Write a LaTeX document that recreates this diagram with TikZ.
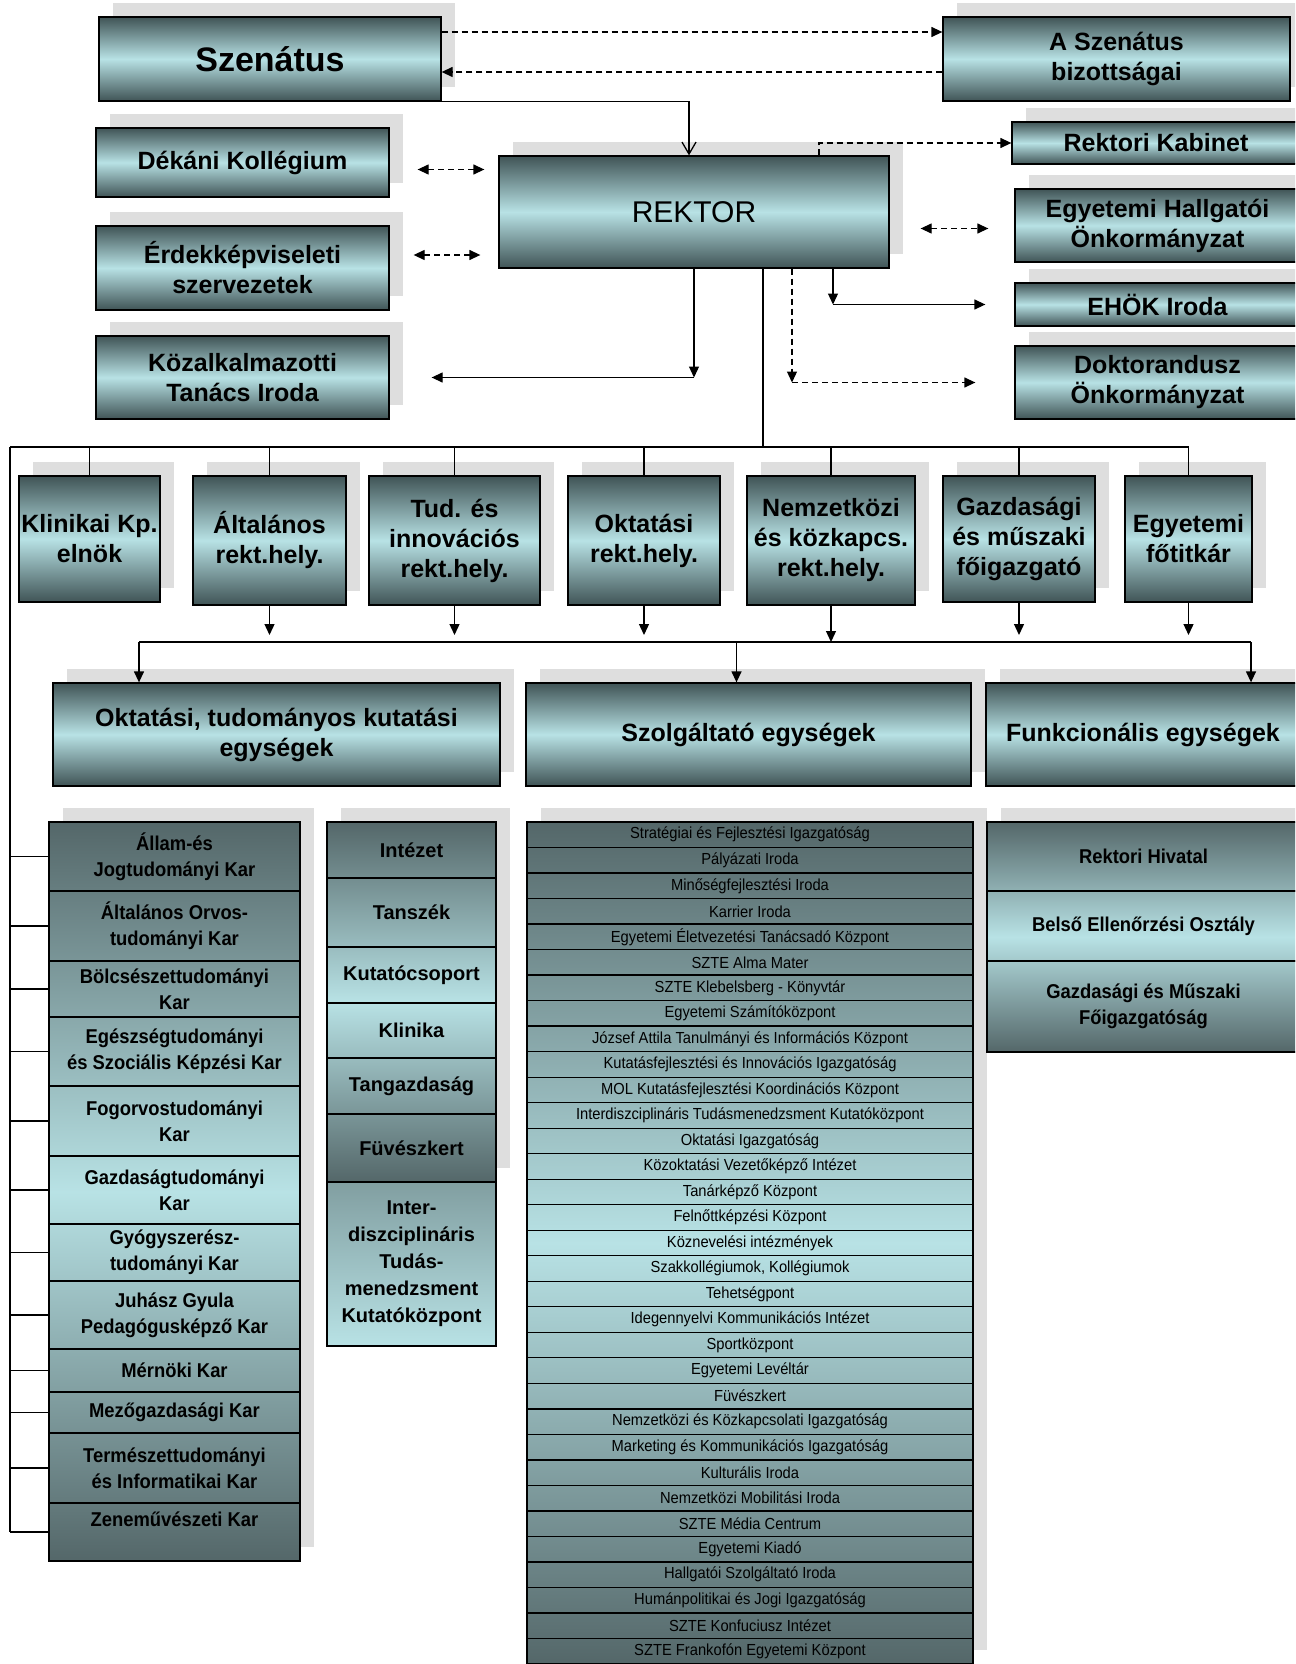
\documentclass[tikz,border=0pt]{standalone}
\usepackage{fontspec}
\setmainfont{Liberation Sans}
\newfontfamily\keskeny{Liberation Sans}[FakeStretch=0.92]
\usetikzlibrary{arrows.meta,shadows,calc}
\definecolor{sotet}{RGB}{64,84,86}
\definecolor{vilagos}{RGB}{184,226,229}
\definecolor{listasotet}{RGB}{84,103,105}
\definecolor{arnyek}{RGB}{222,222,222}
\begin{document}
\begin{tikzpicture}[x=1pt, y=-1pt, line width=1.3pt,
    >={Triangle[length=11pt,width=10pt]},
    arnyekos/.style={drop shadow={shadow xshift=14pt, shadow yshift=14pt, fill=arnyek, opacity=1}},
    doboz/.style={draw, arnyekos, top color=sotet, bottom color=sotet, middle color=vilagos, align=center, inner sep=2pt},
    lista/.style={arnyekos, top color=listasotet, bottom color=listasotet, middle color=vilagos},
    sor/.style={draw, align=center, inner sep=0pt},
    fofont/.style={font=\fontsize{25}{30}\selectfont\bfseries},
    karfont/.style={font=\keskeny\fontsize{20}{26}\selectfont\bfseries},
    kisfont/.style={font=\keskeny\fontsize{16}{18}\selectfont},
    szaggatott/.style={dash pattern=on 6pt off 4pt}]
    \useasboundingbox (0,0) rectangle (1295,1664);
    \fill[white] (0,0) rectangle (1295,1664);
    \clip (0,0) rectangle (1295,1664);
    % Szenátus és bizottságai
    \node[doboz, minimum width=342pt, minimum height=84pt, font=\fontsize{34}{40}\selectfont\bfseries] (szenatus) at (270,59) {Szenátus};
    \node[doboz, fofont, minimum width=347pt, minimum height=84pt] (bizottsag) at (1116.5,59) {A Szenátus\\bizottságai};
    % Rektor és környezete
    \node[doboz, minimum width=390pt, minimum height=112pt, font=\fontsize{30}{36}\selectfont] (rektor) at (694,212) {REKTOR};
    \node[doboz, fofont, minimum width=293pt, minimum height=69pt] (dekani) at (242.5,162.5) {Dékáni Kollégium};
    \node[doboz, fofont, minimum width=293pt, minimum height=84pt] (erdek) at (242.5,268) {Érdekképviseleti\\szervezetek};
    \node[doboz, fofont, minimum width=293pt, minimum height=83pt] (kozalk) at (242.5,377.5) {Közalkalmazotti\\Tanács Iroda};
    \node[doboz, fofont, minimum width=288pt, minimum height=42pt] (kabinet) at (1156,143) {Rektori Kabinet};
    \node[doboz, fofont, minimum width=285pt, minimum height=73pt] (ehoe) at (1157.5,225.5) {Egyetemi Hallgatói\\Önkormányzat};
    \node[doboz, fofont, minimum width=285pt, minimum height=43pt] (ehokiroda) at (1157.5,304.5) {EHÖK Iroda};
    \node[doboz, fofont, minimum width=285pt, minimum height=73pt] (doktor) at (1157.5,382.5) {Doktorandusz\\Önkormányzat};
    % Rektorhelyettesek sora
    \node[doboz, fofont, minimum width=141pt, minimum height=126pt] (klinikai) at (89.5,539) {Klinikai Kp.\\elnök};
    \node[doboz, fofont, minimum width=153pt, minimum height=129pt] (altalanos) at (269.5,540.5) {Általános\\rekt.hely.};
    \node[doboz, fofont, minimum width=171pt, minimum height=129pt] (tud) at (454.5,540.5) {Tud. és\\innovációs\\rekt.hely.};
    \node[doboz, fofont, minimum width=152pt, minimum height=129pt] (oktrh) at (644,540.5) {Oktatási\\rekt.hely.};
    \node[doboz, fofont, minimum width=168pt, minimum height=129pt] (nemzk) at (831,540.5) {Nemzetközi\\és közkapcs.\\rekt.hely.};
    \node[doboz, fofont, minimum width=152pt, minimum height=126pt] (gazd) at (1019,539) {Gazdasági\\és műszaki\\főigazgató};
    \node[doboz, fofont, minimum width=127pt, minimum height=126pt] (fotitkar) at (1188.5,539) {Egyetemi\\főtitkár};
    % Egységek
    \node[doboz, fofont, minimum width=447pt, minimum height=103pt] (okttud) at (276.5,734.5) {Oktatási, tudományos kutatási\\egységek};
    \node[doboz, fofont, minimum width=445pt, minimum height=103pt] (szolg) at (748.5,734.5) {Szolgáltató egységek};
    \node[doboz, fofont, minimum width=314pt, minimum height=103pt] (funkc) at (1143,734.5) {Funkcionális egységek};
    % Karok
    \path[lista] (49,822) rectangle (300,1561);
    \foreach \ya/\yb/\szoveg [count=\i] in {
        822/891/{Állam-és\\Jogtudományi Kar}, 891/961/{Általános Orvos-\\tudományi Kar},
        961/1017/{Bölcsészettudományi\\Kar}, 1017/1086/{Egészségtudományi\\és Szociális Képzési Kar},
        1086/1156/{Fogorvostudományi\\Kar}, 1156/1224/{Gazdaságtudományi\\Kar},
        1224/1281/{Gyógyszerész-\\tudományi Kar}, 1281/1349/{Juhász Gyula\\Pedagógusképző Kar},
        1349/1392/{Mérnöki Kar}, 1392/1433/{Mezőgazdasági Kar},
        1433/1503/{Természettudományi\\és Informatikai Kar}, 1503/1561/{Zeneművészeti Kar\\\mbox{}}}
        \node[sor, karfont, minimum width=251pt, minimum height={\yb-\ya}] (kar\i) at (174.5,{(\ya+\yb)/2}) {\szoveg};
    % Intézetek, tanszékek
    \path[lista] (327,822) rectangle (496,1182);
    \foreach \ya/\yb/\szoveg [count=\i] in {
        822/878/Intézet, 878/947/Tanszék, 947/1003/Kutatócsoport,
        1003/1058/Klinika, 1058/1114/Tangazdaság, 1114/1182/Füvészkert}
        \node[sor, font=\fontsize{20}{27}\selectfont\bfseries, minimum width=169pt, minimum height={\yb-\ya}] (int\i) at (411.5,{(\ya+\yb)/2}) {\szoveg};
    \node[sor, top color=listasotet!55!vilagos, bottom color=vilagos, font=\fontsize{20}{27}\selectfont\bfseries, minimum width=169pt, minimum height=164pt] (int7) at (411.5,1264) {Inter-\\diszciplináris\\Tudás-\\menedzsment\\Kutatóközpont};
    % Szolgáltató egységek listája
    \path[lista] (527,822) rectangle (973,1664);
    \foreach \szoveg [count=\i] in {
        Stratégiai és Fejlesztési Igazgatóság, Pályázati Iroda, Minőségfejlesztési Iroda,
        Karrier Iroda, Egyetemi Életvezetési Tanácsadó Központ, SZTE Alma Mater,
        SZTE Klebelsberg - Könyvtár, Egyetemi Számítóközpont,
        József Attila Tanulmányi és Információs Központ, Kutatásfejlesztési és Innovációs Igazgatóság,
        MOL Kutatásfejlesztési Koordinációs Központ, Interdiszciplináris Tudásmenedzsment Kutatóközpont,
        Oktatási Igazgatóság, Közoktatási Vezetőképző Intézet, Tanárképző Központ,
        Felnőttképzési Központ, Köznevelési intézmények, {Szakkollégiumok, Kollégiumok},
        Tehetségpont, Idegennyelvi Kommunikációs Intézet, Sportközpont, Egyetemi Levéltár,
        Füvészkert, Nemzetközi és Közkapcsolati Igazgatóság, Marketing és Kommunikációs Igazgatóság,
        Kulturális Iroda, Nemzetközi Mobilitási Iroda, SZTE Média Centrum, Egyetemi Kiadó,
        Hallgatói Szolgáltató Iroda, Humánpolitikai és Jogi Igazgatóság, SZTE Konfuciusz Intézet,
        SZTE Frankofón Egyetemi Központ}
        \node[sor, kisfont, minimum width=446pt, minimum height=25.5pt] (szl\i) at (750,{822+(\i-0.5)*25.515}) {\szoveg};
    % Funkcionális egységek listája
    \path[lista] (987,822) rectangle (1300,1052);
    \foreach \ya/\yb/\szoveg [count=\i] in {
        822/891/{Rektori Hivatal}, 891/961/{Belső Ellenőrzési Osztály},
        961/1052/{Gazdasági és Műszaki\\Főigazgatóság}}
        \node[sor, karfont, minimum width=313pt, minimum height={\yb-\ya}] (fl\i) at (1143.5,{(\ya+\yb)/2}) {\szoveg};
    % Szenátus kapcsolatai
    \draw[szaggatott,->] ([yshift=27pt]szenatus.east) -- ([yshift=27pt]bizottsag.west);
    \draw[szaggatott,->] ([yshift=-13pt]bizottsag.west) -- ([yshift=-13pt]szenatus.east);
    \draw[-{Straight Barb[length=12pt,width=14pt]}] (szenatus.south east) -| ($(rektor.north)+(-5,0)$);
    % Rektor kapcsolatai
    \draw[szaggatott,->] ($(rektor.north)+(125,0)$) |- (kabinet.west);
    \draw[szaggatott,<->] ($(dekani.east)+(28,7)$) -- ($(rektor.west |- dekani.east)+(-14,7)$);
    \draw[szaggatott,<->] ($(erdek.east)+(24,-13)$) -- ($(rektor.west |- erdek.east)+(-18,-13)$);
    \draw[szaggatott,<->] ($(rektor.east |- ehoe.west)+(31,3)$) -- ($(ehoe.west)+(-26,3)$);
    \coordinate (k1) at (rektor.south |- kozalk.east);
    \draw[->] (rektor.south) -- (k1);
    \draw[->] (k1) -- ($(kozalk.east)+(42,0)$);
    \path ($(rektor.south)+(139,0)$) coordinate (r2);
    \coordinate (k2) at (r2 |- ehokiroda.west);
    \draw[->] (r2) -- (k2);
    \draw[->] (k2) -- ($(ehokiroda.west)+(-29,0)$);
    \path ($(rektor.south)+(98,0)$) coordinate (r3);
    \coordinate (k3) at (r3 |- doktor.west);
    \draw[szaggatott,->] (r3) -- (k3);
    \draw[szaggatott,->] (k3) -- ($(doktor.west)+(-39,0)$);
    % Fővonal a rektorhelyettesekhez
    \coordinate (busz) at (10,447);
    \path ($(rektor.south)+(69,0)$) coordinate (r4);
    \draw (r4) -- (r4 |- busz);
    \draw (busz) -- (busz -| fotitkar.north);
    \foreach \n in {klinikai,altalanos,tud,oktrh,nemzk,gazd,fotitkar}
        \draw (busz -| \n.north) -- (\n.north);
    \draw (busz) -- (busz |- kar12.west);
    \foreach \i in {1,...,12}
        \draw (busz |- kar\i.west) -- (kar\i.west);
    % Egységek felé
    \coordinate (busz2) at (139,642);
    \coordinate (busz2v) at (1251,642);
    \draw (busz2) -- (busz2v);
    \foreach \n in {altalanos,tud,oktrh,gazd,fotitkar}
        \draw[->] (\n.south) -- ($(\n.south |- busz2)+(0,-7)$);
    \draw[->] (nemzk.south) -- (nemzk.south |- busz2);
    \draw[->] (busz2) -- (busz2 |- okttud.north);
    \draw[->] ($(szolg.north |- busz2)+(-12,0)$) -- ($(szolg.north)+(-12,0)$);
    \draw[->] (busz2v) -- (busz2v |- funkc.north);
\end{tikzpicture}
\end{document}
